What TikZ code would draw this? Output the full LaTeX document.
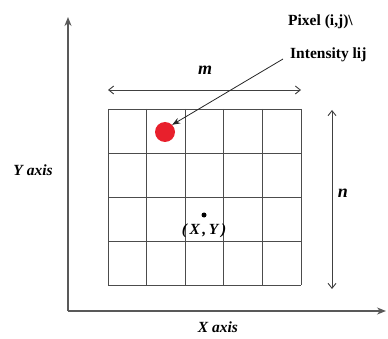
\documentclass[tikz,border=0pt]{standalone}
\usepackage{fontspec}
\setmainfont{Liberation Serif}
\usetikzlibrary{positioning,arrows.meta,calc}
\definecolor{pixred}{RGB}{232,32,44}

\begin{document}
\begin{tikzpicture}[
    x=1pt, y=-1pt,
    font=\bfseries\fontsize{15.5}{18}\selectfont,
    axis/.style  = {draw=black!65, line width=1.6pt, -{Stealth[length=9pt,width=7pt]}},
    cell/.style  = {draw=black!70, line width=0.8pt},
    dim/.style   = {draw=black!75, line width=0.9pt, {Straight Barb[length=5pt,width=8pt]}-{Straight Barb[length=5pt,width=8pt]}},
    ar/.style    = {draw=black!85, line width=0.8pt, -{Stealth[length=8pt,width=6pt]}},
    lbl/.style   = {inner sep=1pt, font=\bfseries\itshape\fontsize{15.5}{18}\selectfont},
]
\useasboundingbox (0,0) rectangle (388,339);

% ---------------- axes ----------------
\coordinate (orig) at (68,311);
\coordinate (ytop) at (68,17);
\coordinate (xend) at (386,311);
\draw[axis] (orig) -- (ytop);
\draw[axis] (orig.center) -- (xend);
\node[lbl] (ylab) at (33,170) {Y axis};
\node[lbl] (xlab) at (218,327) {X axis};

% ---------------- grid ----------------
\foreach \x in {108,146.6,185.2,223.8,262.4,301}
    \draw[cell] (\x,109) -- (\x,285);
\foreach \y in {109,153,197,241,285}
    \draw[cell] (108,\y) -- (301,\y);

% ---------------- dimensions ----------------
\coordinate (mleft) at (108,90);
\coordinate (mright) at (301,90);
\draw[dim] (mleft) -- (mright);
\node[lbl, font=\bfseries\itshape\fontsize{18}{20}\selectfont] (mlab) at (205,70) {m};
\coordinate (ntop) at (332,110);
\coordinate (nbot) at (332,289);
\draw[dim] (ntop) -- (nbot);
\node[lbl, font=\bfseries\itshape\fontsize{18}{20}\selectfont] (nlab) at (343,193) {n};

% ---------------- pixel ----------------
\node[circle, fill=pixred, inner sep=0pt, minimum size=20pt] (pix) at (165,132) {};
\node[anchor=west, inner sep=1pt] (ptext) at (287,22) {Pixel (i,j)\textbackslash};
\node[anchor=west, inner sep=1pt] (itext) at (289,55) {Intensity lij};
\coordinate (astart) at (283,59);
\draw[ar] (astart) -- (pix.north east);

% ---------------- centre point ----------------
\node[circle, fill=black, inner sep=0pt, minimum size=5pt] (cpt) at (204,215) {};
\node[lbl, below=5pt of cpt] (clab) {(\,X\,,\,Y\,)};

\end{tikzpicture}
\end{document}
